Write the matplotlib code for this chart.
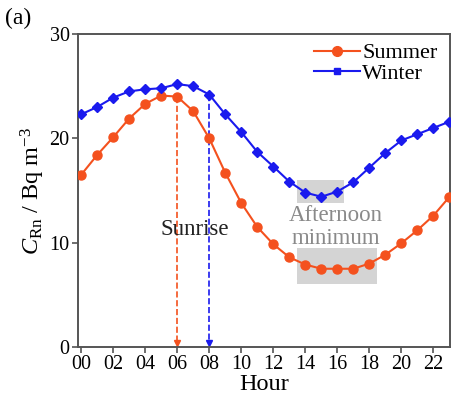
import matplotlib.pyplot as plt
from matplotlib.lines import Line2D
import numpy as np

# hourly mean radon concentration (Bq m^-3)
hours = np.arange(24)
summer = [16.5, 18.4, 20.1, 21.9, 23.3, 24.1, 24.0, 22.6, 20.0, 16.7, 13.8, 11.5,
          9.85, 8.6, 7.9, 7.5, 7.5, 7.5, 8.0, 8.85, 9.95, 11.2, 12.6, 14.4]
winter = [22.3, 23.0, 23.9, 24.5, 24.7, 24.8, 25.2, 25.0, 24.2, 22.3, 20.6, 18.7,
          17.3, 15.85, 14.8, 14.4, 14.9, 15.8, 17.2, 18.6, 19.8, 20.4, 21.0, 21.6]
sunrise_summer = 6
sunrise_winter = 8
xtick_labels = ['%02d' % h for h in range(0, 24, 2)]

c_sum = '#f4511e'
c_win = '#1a1aee'

plt.rcParams['font.family'] = 'Liberation Serif'
plt.rcParams['mathtext.fontset'] = 'custom'
plt.rcParams['mathtext.rm'] = 'Liberation Serif'
plt.rcParams['mathtext.it'] = 'Liberation Serif:italic'

fig = plt.figure(figsize=(4.53, 4.0), dpi=100)
ax = fig.add_axes([0.172, 0.1325, 0.822, 0.7825])

# highlight boxes for the afternoon minimum
ax.fill_between([13.5, 16.4], 13.8, 16.0, color='#d4d4d4', lw=0, zorder=0)
ax.fill_between([13.5, 18.5], 6.0, 9.45, color='#d4d4d4', lw=0, zorder=0)

ax.plot(hours, summer, '-o', color=c_sum, lw=1.5, ms=6.5, zorder=3)
ax.plot(hours, winter, '-D', color=c_win, lw=1.5, ms=5.5, zorder=3)

# sunrise markers
ax.plot([sunrise_summer] * 2, [summer[sunrise_summer], 0.4], '--', color=c_sum, lw=1.2, zorder=2)
ax.plot(sunrise_summer, 0.35, 'v', color=c_sum, ms=5, clip_on=False, zorder=2)
ax.plot([sunrise_winter] * 2, [winter[sunrise_winter], 0.4], '--', color=c_win, lw=1.2, zorder=2)
ax.plot(sunrise_winter, 0.35, 'v', color=c_win, ms=5, clip_on=False, zorder=2)

ax.text(7.1, 11.3, 'Sunrise', fontsize=16.5, ha='center', va='center', color='#222222')
ax.text(15.9, 12.6, 'Afternoon', fontsize=16.5, ha='center', va='center', color='#8a8a8a')
ax.text(15.9, 10.4, 'minimum', fontsize=16.5, ha='center', va='center', color='#8a8a8a')

ax.set_xlim(-0.2, 23.05)
ax.set_ylim(0, 30)
ax.set_xticks(range(0, 24, 2))
ax.set_xticklabels(xtick_labels)
ax.set_yticks([0, 10, 20, 30])
ax.tick_params(direction='out', length=4, width=1.2, color='#555555', labelsize=14.5, pad=2)
for s in ax.spines.values():
    s.set_color('#555555')
    s.set_linewidth(1.4)

ax.set_xlabel('Hour', fontsize=17.5, labelpad=0)
ax.set_ylabel(r'$C_{\mathrm{Rn}}$ / Bq m$^{-3}$', fontsize=17.5, labelpad=2)

handles = [Line2D([], [], color=c_sum, marker='o', lw=1.5, ms=7),
           Line2D([], [], color=c_win, marker='s', lw=1.5, ms=5)]
ax.legend(handles, ['Summer', 'Winter'], loc='upper right', frameon=False, fontsize=16,
          handlelength=2.05, handletextpad=0.1, labelspacing=0.0,
          borderaxespad=0, bbox_to_anchor=(0.989, 1.0))

fig.text(0.012, 0.955, '(a)', fontsize=17, ha='left', va='center')

fig.savefig('out.png', dpi=100)
